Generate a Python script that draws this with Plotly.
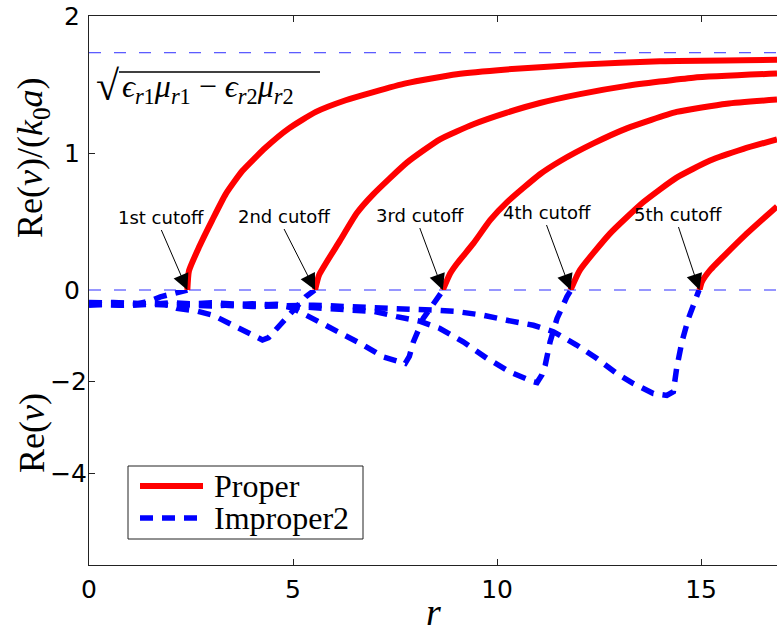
import plotly.graph_objects as go

# ---------------- data ----------------
proper_x = [
    [2.41, 2.45, 2.70, 3.02, 3.35, 3.76, 4.33, 4.90, 5.56, 6.29, 6.97, 7.79, 9.01, 10.24, 12.03, 13.99, 16.86],
    [5.54, 5.64, 6.15, 6.56, 6.97, 7.79, 8.60, 9.42, 10.24, 11.05, 12.03, 13.18, 14.81, 16.86],
    [8.67, 8.85, 9.01, 9.42, 9.83, 10.24, 11.05, 11.54, 12.36, 13.18, 14.40, 15.63, 16.86],
    [11.80, 12.03, 12.76, 13.58, 14.40, 15.22, 16.04, 16.86],
    [14.96, 15.02, 15.22, 16.04, 16.86],
]
proper_y = [
    [0.0, 0.14, 0.315, 0.51, 0.70, 0.87, 1.04, 1.18, 1.30, 1.385, 1.445, 1.51, 1.575, 1.61, 1.645, 1.67, 1.68],
    [0.0, 0.11, 0.36, 0.56, 0.70, 0.93, 1.10, 1.21, 1.295, 1.365, 1.43, 1.49, 1.55, 1.58],
    [0.0, 0.12, 0.19, 0.34, 0.51, 0.64, 0.845, 0.94, 1.07, 1.18, 1.30, 1.36, 1.39],
    [0.0, 0.145, 0.41, 0.64, 0.82, 0.945, 1.03, 1.10],
    [0.0, 0.06, 0.145, 0.39, 0.61],
]

improper_x = [
    [0.0, 0.6, 1.2, 1.5, 1.75, 2.1, 2.41],
    [0.0, 0.8, 1.6, 1.85, 2.15, 2.65, 3.04, 3.37, 3.7, 4.0, 4.25, 4.4, 4.53, 4.9, 5.31, 5.53],
    [0.0, 1.0, 2.0, 3.0, 4.0, 4.6, 5.0, 5.39, 5.88, 6.37, 6.72, 7.21, 7.6, 7.75, 7.85, 7.95, 8.19, 8.52, 8.68],
    [0.0, 1.0, 2.0, 3.0, 4.0, 5.5, 6.5, 7.0, 7.54, 8.1, 8.6, 9.17, 9.75, 10.32, 10.89, 10.98, 11.1, 11.18, 11.3, 11.47, 11.71, 11.81],
    [0.0, 1.0, 2.0, 3.0, 4.0, 5.5, 6.4, 7.2, 7.83, 8.44, 9.01, 9.66, 10.24, 10.89, 11.38, 11.95, 12.44, 12.93, 13.34, 13.83, 14.16, 14.32, 14.4, 14.53, 14.69, 14.85, 14.95],
]
improper_y = [
    [-0.29, -0.27, -0.30, -0.24, -0.15, -0.07, 0.0],
    [-0.31, -0.33, -0.29, -0.31, -0.40, -0.46, -0.55, -0.69, -0.83, -0.98, -1.09, -1.04, -0.91, -0.55, -0.15, 0.0],
    [-0.27, -0.30, -0.33, -0.28, -0.33, -0.31, -0.40, -0.58, -0.80, -1.02, -1.20, -1.46, -1.58, -1.60, -1.45, -1.13, -0.62, -0.22, 0.0],
    [-0.33, -0.29, -0.31, -0.35, -0.30, -0.38, -0.42, -0.47, -0.58, -0.68, -0.84, -1.13, -1.49, -1.79, -2.0, -2.02, -1.85, -1.64, -1.13, -0.62, -0.15, 0.0],
    [-0.30, -0.34, -0.28, -0.32, -0.36, -0.33, -0.36, -0.37, -0.40, -0.44, -0.47, -0.55, -0.66, -0.77, -0.91, -1.2, -1.49, -1.82, -2.04, -2.26, -2.30, -2.22, -1.71, -1.13, -0.62, -0.18, 0.0],
]

asymptote = 1.732          # sqrt(eps_r1 mu_r1 - eps_r2 mu_r2)
cutoff_r = [2.41, 5.54, 8.67, 11.80, 14.96]
cutoff_labels = ["1st cutoff", "2nd cutoff", "3rd cutoff", "4th cutoff", "5th cutoff"]

x_ticks = [0, 5, 10, 15]
upper_ticks = [0, 1, 2]
lower_ticks = [-2, -4]

# ---------------- layout constants ----------------
W, H = 777, 633
L, R, T, B = 89, 0, 16, 68
PW, PH = W - L - R, H - T - B
SPLIT = 290                      # pixel row where the two panels meet
split_frac = (H - B - SPLIT) / PH

def px(xp):
    return (xp - L) / PW

def py(yp):
    return (H - B - yp) / PH

SERIF = "Liberation Serif, Times New Roman, DejaVu Serif, serif"
SANS = "DejaVu Sans, Liberation Sans, Arial, sans-serif"
AX = "#222222"

def join(xs, ys):
    X, Y = [], []
    for a, b in zip(xs, ys):
        X += a + [None]
        Y += b + [None]
    return X, Y

fig = go.Figure()

px_, py_ = join(proper_x, proper_y)
ix_, iy_ = join(improper_x, improper_y)

xr = [0, 16.86]
# thin dashed reference lines
fig.add_trace(go.Scatter(x=xr, y=[asymptote, asymptote], mode="lines", xaxis="x", yaxis="y",
                         line=dict(color="#2f2fff", width=1, dash="12px,13px"), showlegend=False, hoverinfo="skip"))
fig.add_trace(go.Scatter(x=xr, y=[0, 0], mode="lines", xaxis="x", yaxis="y",
                         line=dict(color="#2f2fff", width=1.2, dash="12px,13px"), showlegend=False, hoverinfo="skip"))
fig.add_trace(go.Scatter(x=xr, y=[0, 0], mode="lines", xaxis="x2", yaxis="y2",
                         line=dict(color="#2f2fff", width=1.2, dash="12px,13px"), showlegend=False, hoverinfo="skip"))

fig.add_trace(go.Scatter(x=px_, y=py_, mode="lines", name="Proper", xaxis="x", yaxis="y",
                         line=dict(color="#ff0000", width=6, shape="spline", smoothing=0.5), showlegend=False))
fig.add_trace(go.Scatter(x=ix_, y=iy_, mode="lines", name="Improper2", xaxis="x2", yaxis="y2",
                         line=dict(color="#0000ff", width=5.5, dash="13px,9px"), showlegend=False))

axis_common = dict(showline=True, linecolor=AX, linewidth=1, ticks="inside", ticklen=6,
                   tickcolor=AX, showgrid=False, zeroline=False, automargin=False,
                   tickfont=dict(family=SANS, size=25, color="#000"))

fig.update_layout(
    width=W, height=H,
    margin=dict(l=L, r=R, t=T, b=B),
    paper_bgcolor="white", plot_bgcolor="white",
    showlegend=False,
    xaxis=dict(axis_common, domain=[0, 1], anchor="y", side="top", range=xr,
               tickvals=x_ticks[1:], showticklabels=False),
    yaxis=dict(axis_common, domain=[split_frac, 1], anchor="x", range=[0, 2],
               tickvals=upper_ticks, ticktext=[str(v) for v in upper_ticks], ticklabelstandoff=3),
    xaxis2=dict(axis_common, domain=[0, 1], anchor="y2", side="bottom", matches="x", range=xr,
                tickvals=x_ticks, ticktext=[str(v) for v in x_ticks], ticklabelstandoff=2),
    yaxis2=dict(axis_common, domain=[0, split_frac], anchor="x2", range=[-6, 0],
                tickvals=lower_ticks, ticktext=["\u2212" + str(-v) for v in lower_ticks], ticklabelstandoff=-4),
)

ann = []
# cutoff arrows
tails = [(-26, -60), (-31, -61), (-23, -62), (-24, -65), (-21, -63)]
for r, lab, (ax, ay) in zip(cutoff_r, cutoff_labels, tails):
    ann.append(dict(x=r, y=0, xref="x", yref="y", text=lab, showarrow=True,
                    ax=ax, ay=ay, xanchor="center", yanchor="bottom",
                    arrowhead=2, arrowsize=3.2, arrowwidth=1, arrowcolor="#000",
                    standoff=0, font=dict(family=SANS, size=18, color="#000")))

# axis titles
ann.append(dict(x=px(33), y=py(157), xref="paper", yref="paper", textangle=-90, showarrow=False,
                text="Re(<i>v</i>)/(<i>k</i><sub>0</sub><i>a</i>)", xanchor="center", yanchor="middle",
                font=dict(family=SERIF, size=36, color="#000")))
ann.append(dict(x=px(32), y=py(433), xref="paper", yref="paper", textangle=-90, showarrow=False,
                text="Re(<i>v</i>)", xanchor="center", yanchor="middle",
                font=dict(family=SERIF, size=36, color="#000")))
ann.append(dict(x=0.5, y=py(612), xref="paper", yref="paper", showarrow=False,
                text="<i>r</i>", xanchor="center", yanchor="middle",
                font=dict(family=SERIF, size=38, color="#000")))

# sqrt label
ann.append(dict(x=px(122), y=py(86), xref="paper", yref="paper", showarrow=False,
                text="\u221a", xanchor="right", yanchor="middle",
                font=dict(family=SERIF, size=42, color="#000")))
ann.append(dict(x=px(120), y=py(88), xref="paper", yref="paper", showarrow=False,
                text="<i>\u03f5</i><sub><i>r</i>1</sub><i>\u03bc</i><sub><i>r</i>1</sub> \u2212 "
                     "<i>\u03f5</i><sub><i>r</i>2</sub><i>\u03bc</i><sub><i>r</i>2</sub>",
                xanchor="left", yanchor="middle",
                font=dict(family=SERIF, size=32, color="#000")))

# legend text
ann.append(dict(x=px(212), y=py(486), xref="paper", yref="paper", showarrow=False,
                text="Proper", xanchor="left", yanchor="middle",
                font=dict(family=SERIF, size=32, color="#000")))
ann.append(dict(x=px(212), y=py(518), xref="paper", yref="paper", showarrow=False,
                text="Improper2", xanchor="left", yanchor="middle",
                font=dict(family=SERIF, size=32, color="#000")))

shapes = [
    dict(type="line", xref="paper", yref="paper", x0=px(119), x1=px(320), y0=py(72), y1=py(72),
         line=dict(color="#000", width=1.3)),
    dict(type="rect", xref="paper", yref="paper", x0=px(128), x1=px(363), y0=py(539), y1=py(466),
         line=dict(color=AX, width=1), fillcolor="white", layer="above"),
    dict(type="line", xref="paper", yref="paper", x0=px(140), x1=px(203), y0=py(486), y1=py(486),
         line=dict(color="#ff0000", width=6)),
    dict(type="line", xref="paper", yref="paper", x0=px(140), x1=px(203), y0=py(518), y1=py(518),
         line=dict(color="#0000ff", width=5.5, dash="13px,9px")),
]

fig.update_layout(annotations=ann, shapes=shapes)
fig.write_html("out.html", config={"displayModeBar": False},
               post_script="document.body.style.margin='0';document.body.style.overflow='hidden';")
